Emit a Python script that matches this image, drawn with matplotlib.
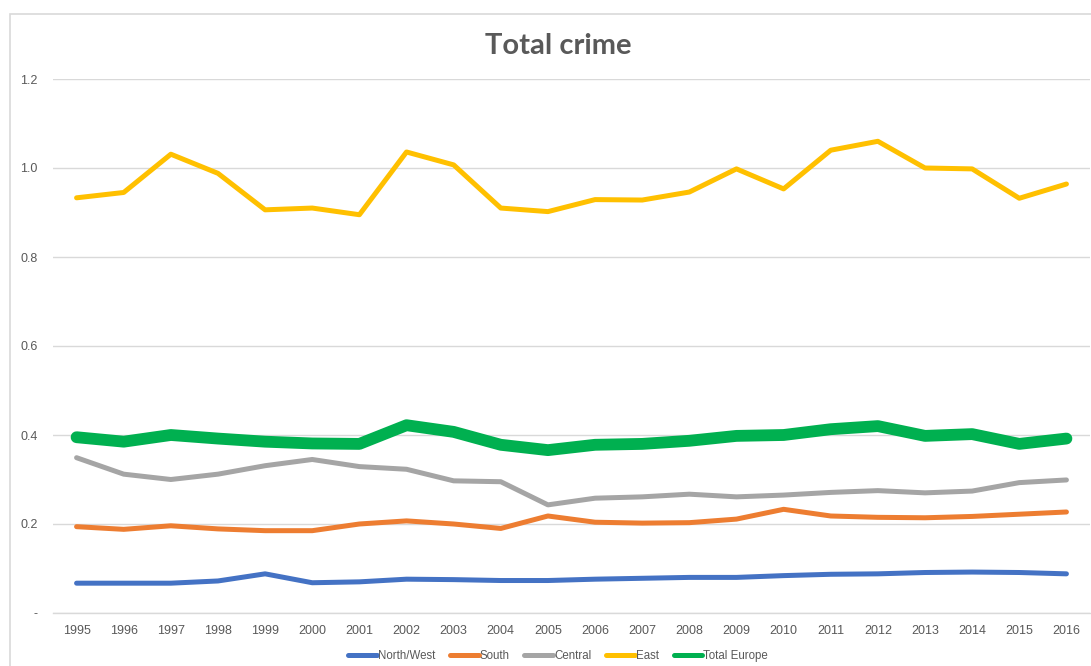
import matplotlib
matplotlib.use("Agg")
import matplotlib.pyplot as plt
from matplotlib.patches import Rectangle

years = [str(y) for y in range(1995, 2017)]

north_west = [0.067, 0.067, 0.067, 0.072, 0.088, 0.068, 0.070, 0.076, 0.075, 0.073, 0.073,
              0.076, 0.078, 0.080, 0.080, 0.084, 0.087, 0.088, 0.091, 0.092, 0.091, 0.088]
south = [0.194, 0.188, 0.196, 0.189, 0.185, 0.185, 0.200, 0.207, 0.200, 0.190, 0.218,
         0.204, 0.202, 0.203, 0.211, 0.233, 0.218, 0.215, 0.214, 0.217, 0.222, 0.227]
central = [0.349, 0.312, 0.300, 0.312, 0.331, 0.345, 0.329, 0.323, 0.297, 0.295, 0.243,
           0.258, 0.261, 0.267, 0.261, 0.265, 0.271, 0.275, 0.270, 0.274, 0.293, 0.299]
east = [0.933, 0.945, 1.031, 0.988, 0.906, 0.910, 0.895, 1.036, 1.007, 0.910, 0.902,
        0.929, 0.928, 0.946, 0.998, 0.953, 1.040, 1.060, 1.000, 0.998, 0.932, 0.964]
total_europe = [0.395, 0.385, 0.400, 0.392, 0.385, 0.381, 0.380, 0.422, 0.407, 0.378, 0.366,
                0.378, 0.380, 0.387, 0.398, 0.400, 0.413, 0.420, 0.398, 0.402, 0.380, 0.392]

series = [
    ("North/West", north_west, "#4472C4", 3.6),
    ("South", south, "#ED7D31", 3.6),
    ("Central", central, "#A5A5A5", 3.6),
    ("East", east, "#FFC000", 3.6),
    ("Total Europe", total_europe, "#00B050", 8.5),
]

y_ticks = [0, 0.2, 0.4, 0.6, 0.8, 1.0, 1.2]
y_tick_labels = ["-", "0.2", "0.4", "0.6", "0.8", "1.0", "1.2"]

W, H = 1091, 666
fig = plt.figure(figsize=(W / 100, H / 100), dpi=100)

# chart area frame
fig.patches.append(Rectangle((10 / W, -0.01), 1.1, (H - 14) / H + 0.01,
                             transform=fig.transFigure, fill=False,
                             edgecolor="#D9D9D9", linewidth=1.2))

ax = fig.add_axes([53 / W, 53 / H, 1037 / W, 534 / H])
x = list(range(len(years)))
for name, vals, color, lw in series:
    ax.plot(x, vals, color=color, linewidth=lw, label=name,
            solid_capstyle="round", solid_joinstyle="round")

ax.set_xlim(-0.5, len(years) - 0.5)
ax.set_ylim(0, 1.2)
ax.set_yticks(y_ticks)
ax.set_yticklabels(y_tick_labels)
ax.set_xticks(x)
ax.set_xticklabels(years)

for lab in ax.get_xticklabels() + ax.get_yticklabels():
    lab.set_fontfamily("Liberation Sans")
    lab.set_fontsize(9)
    lab.set_color("#595959")
ax.tick_params(axis="both", length=0)
ax.tick_params(axis="y", pad=11)
ax.tick_params(axis="x", pad=9)

ax.grid(axis="y", color="#D9D9D9", linewidth=1.0)
ax.set_axisbelow(True)
for s in ["top", "right", "left"]:
    ax.spines[s].set_visible(False)
ax.spines["bottom"].set_color("#D9D9D9")
ax.spines["bottom"].set_linewidth(1.0)
ax.spines["bottom"].set_zorder(0.5)

fig.text(558 / W, 1 - 46 / H, "Total crime", ha="center", va="center",
         fontsize=21, fontweight="bold", color="#595959", family="Lato")

leg = fig.legend(loc="center", bbox_to_anchor=(558 / W, 1 - 656 / H), ncol=5,
                 frameon=False, handlelength=2.5, handletextpad=0.05,
                 columnspacing=1.3, prop={"family": "Liberation Sans", "size": 8.3})
for t in leg.get_texts():
    t.set_color("#595959")
for h in leg.get_lines():
    h.set_linewidth(3.6)

fig.savefig("out.png", dpi=100)
